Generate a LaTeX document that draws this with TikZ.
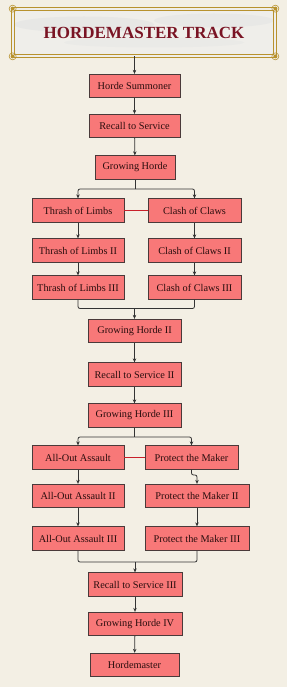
\documentclass[tikz,border=0pt]{standalone}
\usepackage{fontspec}
\setmainfont{Liberation Serif}
\usepackage{xcolor}
\usepackage{tikz}
\usetikzlibrary{arrows.meta, positioning, calc}
\definecolor{parchment}{HTML}{F3EFE4}
\definecolor{boxfill}{HTML}{F87878}
\definecolor{boxline}{HTML}{4A3A3A}
\definecolor{boxtext}{HTML}{2A0E0E}
\definecolor{linkline}{HTML}{333333}
\definecolor{pairred}{HTML}{C8202A}
\definecolor{titlered}{HTML}{7A1424}
\definecolor{gold}{HTML}{B8922E}
\definecolor{titlefill}{HTML}{EFEEEA}
\definecolor{cloud}{HTML}{C4CAD0}
\tikzset{
  talent/.style={rectangle, draw=boxline, fill=boxfill, line width=0.8pt, minimum width=91pt, minimum height=23.5pt, inner sep=0pt, text=boxtext, font=\fontsize{10.3}{12}\selectfont},
  titlebox/.style={rectangle, draw=gold, line width=0.7pt, double=titlefill, double distance=1.8pt, fill=titlefill, minimum width=262pt, minimum height=47pt, inner sep=0pt, text=titlered, font=\fontsize{17}{20}\selectfont\bfseries},
  arrow/.style={-{Stealth[length=4pt, width=3.5pt]}, line width=0.8pt, draw=linkline},
  link/.style={line width=0.8pt, draw=linkline, rounded corners=2pt},
  pairlink/.style={line width=1.3pt, draw=pairred},
}

\begin{document}
\begin{tikzpicture}[x=1pt, y=-1pt]
  % Parchment background
  \fill[parchment] (0,0) rectangle (287,687);
  \useasboundingbox (0,0) rectangle (287,687);

  % Title banner
  \node[titlebox, path picture={
      \fill[cloud, opacity=0.18] ($(path picture bounding box.center)+(-60,-8)$) ellipse (70pt and 8pt);
      \fill[cloud, opacity=0.15] ($(path picture bounding box.center)+(70,-12)$) ellipse (60pt and 7pt);
      \fill[cloud, opacity=0.10] ($(path picture bounding box.center)+(10,10)$) ellipse (90pt and 5pt);
    }] (title) at (144,32.5) {HORDEMASTER TRACK};
  \foreach \c in {north west, north east, south west, south east} {
    \fill[gold] (title.\c) circle (2pt);
    \draw[gold, line width=0.6pt] (title.\c) circle (3.5pt);
  }

  % Opening chain
  \node[talent] (hs) at (134.5,86) {Horde Summoner};
  \node[talent] (rs) at (134.5,126) {Recall to Service};
  \node[talent, minimum width=80pt] (gh) at (135,167.5) {Growing Horde};

  % First branch
  \node[talent, minimum width=92pt] (tl) at (78,210.5) {Thrash of Limbs};
  \node[talent, minimum width=93pt] (cc) at (194.5,210.5) {Clash of Claws};
  \node[talent, minimum width=92pt] (tl2) at (78,250.5) {Thrash of Limbs II};
  \node[talent, minimum width=93pt] (cc2) at (194.5,250.5) {Clash of Claws II};
  \node[talent, minimum width=92pt] (tl3) at (78,287.5) {Thrash of Limbs III};
  \node[talent, minimum width=93pt] (cc3) at (194.5,287.5) {Clash of Claws III};

  % Middle chain
  \node[talent, minimum width=93pt] (gh2) at (134.5,331) {Growing Horde II};
  \node[talent, minimum width=93pt] (rs2) at (134.5,374.5) {Recall to Service II};
  \node[talent, minimum width=93pt] (gh3) at (134.5,415.5) {Growing Horde III};

  % Second branch
  \node[talent, minimum width=92pt] (aa) at (78,457.5) {All-Out Assault};
  \node[talent, minimum width=93pt] (pm) at (191.5,457.5) {Protect the Maker};
  \node[talent, minimum width=92pt] (aa2) at (78,496) {All-Out Assault II};
  \node[talent, minimum width=104pt] (pm2) at (197,496) {Protect the Maker II};
  \node[talent, minimum width=92pt] (aa3) at (78,538.5) {All-Out Assault III};
  \node[talent, minimum width=104pt] (pm3) at (197,538.5) {Protect the Maker III};

  % Closing chain
  \node[talent, minimum width=94pt] (rs3) at (135,584.5) {Recall to Service III};
  \node[talent, minimum width=94pt] (gh4) at (135,624) {Growing Horde IV};
  \node[talent, minimum width=89pt] (hm) at (134.5,665) {Hordemaster};

  % Junction points
  \coordinate (split1) at (135,189);
  \coordinate (merge1) at (134.5,308.5);
  \coordinate (split2) at (134.5,437);
  \coordinate (jog) at (197,475);
  \coordinate (merge2) at (135,562);

  % Straight links
  \draw[arrow] (title.south -| hs.north) -- (hs.north);
  \draw[arrow] (hs) -- (rs);
  \draw[arrow] (rs) -- (gh);
  \draw[arrow] (tl) -- (tl2);
  \draw[arrow] (tl2) -- (tl3);
  \draw[arrow] (cc) -- (cc2);
  \draw[arrow] (cc2) -- (cc3);
  \draw[arrow] (gh2) -- (rs2);
  \draw[arrow] (rs2) -- (gh3);
  \draw[arrow] (aa) -- (aa2);
  \draw[arrow] (aa2) -- (aa3);
  \draw[arrow] (pm2) -- (pm3);
  \draw[arrow] (rs3) -- (gh4);
  \draw[arrow] (gh4) -- (hm);

  % Splits and merges
  \draw[link] (gh.south) -- (split1);
  \draw[arrow, rounded corners=2pt] (split1) -| (tl.north);
  \draw[arrow, rounded corners=2pt] (split1) -| (cc.north);
  \draw[link] (tl3.south) |- (merge1) -| (cc3.south);
  \draw[arrow] (merge1) -- (gh2.north);
  \draw[link] (gh3.south) -- (split2);
  \draw[arrow, rounded corners=2pt] (split2) -| (aa.north);
  \draw[arrow, rounded corners=2pt] (split2) -| (pm.north);
  \draw[arrow, rounded corners=2pt] (pm.south) |- (jog) -- (pm2.north);
  \draw[link] (aa3.south) |- (merge2) -| (pm3.south);
  \draw[arrow] (merge2) -- (rs3.north);

  % Exclusive pairs
  \draw[pairlink] (tl.east) -- (cc.west);
  \draw[pairlink] (aa.east) -- (pm.west);
\end{tikzpicture}
\end{document}
